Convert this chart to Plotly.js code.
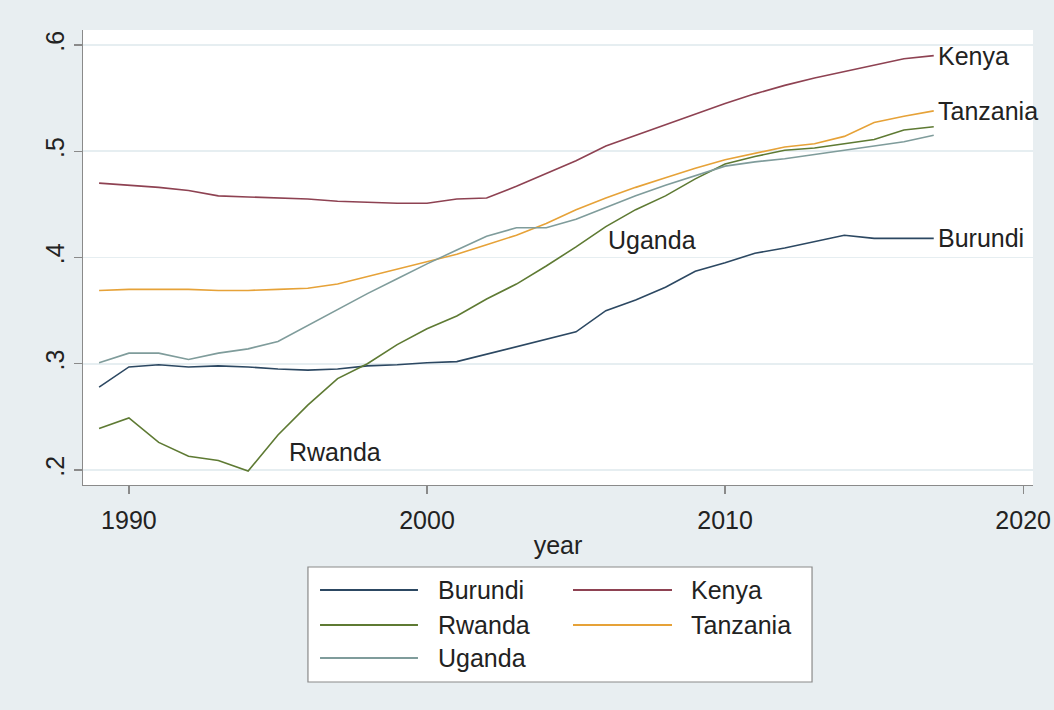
<!DOCTYPE html>
<html>
<head>
<meta charset="utf-8">
<script src="https://cdn.plot.ly/plotly-3.0.1.min.js"></script>
<style>html,body{margin:0;padding:0;background:#e8eef1;}#chart{width:1054px;height:710px;}</style>
</head>
<body>
<div id="chart"></div>
<script>
const years = [1989,1990,1991,1992,1993,1994,1995,1996,1997,1998,1999,2000,2001,2002,2003,2004,2005,2006,2007,2008,2009,2010,2011,2012,2013,2014,2015,2016,2017];
const burundi = [0.278,0.297,0.299,0.297,0.298,0.297,0.295,0.294,0.295,0.298,0.299,0.301,0.302,0.309,0.316,0.323,0.330,0.350,0.360,0.372,0.387,0.395,0.404,0.409,0.415,0.421,0.418,0.418,0.418];
const kenya = [0.470,0.468,0.466,0.463,0.458,0.457,0.456,0.455,0.453,0.452,0.451,0.451,0.455,0.456,0.467,0.479,0.491,0.505,0.515,0.525,0.535,0.545,0.554,0.562,0.569,0.575,0.581,0.587,0.590];
const rwanda = [0.239,0.249,0.226,0.213,0.209,0.199,0.233,0.261,0.286,0.300,0.318,0.333,0.345,0.361,0.375,0.392,0.410,0.429,0.445,0.458,0.474,0.488,0.495,0.501,0.503,0.507,0.511,0.520,0.523];
const tanzania = [0.369,0.370,0.370,0.370,0.369,0.369,0.370,0.371,0.375,0.382,0.389,0.396,0.403,0.412,0.421,0.432,0.445,0.456,0.466,0.475,0.484,0.492,0.498,0.504,0.507,0.514,0.527,0.533,0.538];
const uganda = [0.301,0.310,0.310,0.304,0.310,0.314,0.321,0.336,0.351,0.366,0.380,0.394,0.407,0.420,0.428,0.428,0.436,0.447,0.458,0.468,0.477,0.486,0.490,0.493,0.497,0.501,0.505,0.509,0.515];

const countries = ["Burundi","Kenya","Rwanda","Tanzania","Uganda"];
const seriesValues = [burundi, kenya, rwanda, tanzania, uganda];
const colors = ["#2c4862","#8e4252","#5e7a33","#e6a238","#7f9c9b"];

const yTickVals = [0.2,0.3,0.4,0.5,0.6];
const yTickText = [".2",".3",".4",".5",".6"];
const xTickVals = [1990,2000,2010,2020];

const endLabelIdx = [1,3,0];
const uganLabel = {text:"Uganda", x:2006.0, y:0.4165};
const rwLabel = {text:"Rwanda", x:1995.3, y:0.217};

const FONT = "Liberation Sans, Arial, sans-serif";
const FS = 25;

const traces = countries.map((c,i)=>({
  type:"scatter", mode:"lines", name:c, x:years, y:seriesValues[i],
  line:{color:colors[i], width:1.6}, showlegend:false, hoverinfo:"x+y+name"
}));

const annotations = [];
endLabelIdx.forEach(i=>{
  const n = years.length-1;
  annotations.push({x:years[n], y:seriesValues[i][n], xref:"x", yref:"y", text:countries[i],
    showarrow:false, xanchor:"left", yanchor:"middle", xshift:2,
    font:{family:FONT, size:FS, color:"#222"}});
});
[uganLabel, rwLabel].forEach(l=>{
  annotations.push({x:l.x, y:l.y, xref:"x", yref:"y", text:l.text, showarrow:false,
    xanchor:"left", yanchor:"middle", font:{family:FONT, size:FS, color:"#222"}});
});

const shapes = [];
const legX0 = 0.2368, legX1 = 0.7674, legY0 = -0.4330, legY1 = -0.1802;
shapes.push({type:"rect", xref:"paper", yref:"paper", x0:legX0, x1:legX1, y0:legY0, y1:legY1,
  line:{color:"#8a8a8a", width:1.2}, fillcolor:"#ffffff", layer:"below"});
const colX = [[0.2495,0.3526,0.3716],[0.5158,0.6200,0.6379]];
const rowY = [-0.2308,-0.3077,-0.3802];
countries.forEach((c,i)=>{
  const col = i%2, row = Math.floor(i/2);
  const cx = colX[col], ry = rowY[row];
  shapes.push({type:"line", xref:"paper", yref:"paper", x0:cx[0], x1:cx[1], y0:ry, y1:ry,
    line:{color:colors[i], width:1.8}});
  annotations.push({xref:"paper", yref:"paper", x:cx[2], y:ry, text:c, showarrow:false,
    xanchor:"left", yanchor:"middle", font:{family:FONT, size:FS, color:"#222"}});
});

const layout = {
  width:1054, height:710,
  paper_bgcolor:"#e8eef1", plot_bgcolor:"#ffffff",
  margin:{l:83, r:21, t:30, b:225},
  font:{family:FONT, size:FS, color:"#222"},
  showlegend:false,
  xaxis:{range:[1988.46,2020.33], tickvals:xTickVals, ticks:"outside", ticklen:8, tickcolor:"#8a8a8a",
    tickwidth:1.2, showline:true, linecolor:"#8a8a8a", linewidth:1.2, showgrid:false, zeroline:false,
    ticklabelstandoff:5,
    tickfont:{family:FONT, size:FS, color:"#222"},
    title:{text:"year", font:{family:FONT, size:FS, color:"#222"}, standoff:3}},
  yaxis:{range:[0.1859,0.6141], tickvals:yTickVals, ticktext:yTickText, tickangle:-90,
    ticks:"outside", ticklen:8, tickcolor:"#8a8a8a", tickwidth:1.2,
    showline:true, linecolor:"#8a8a8a", linewidth:1.2, showgrid:true, gridcolor:"#e6eef1", gridwidth:1.5,
    zeroline:false, tickfont:{family:FONT, size:FS, color:"#222"}},
  shapes:shapes, annotations:annotations
};

Plotly.newPlot("chart", traces, layout, {staticPlot:true, displayModeBar:false});
</script>
</body>
</html>
